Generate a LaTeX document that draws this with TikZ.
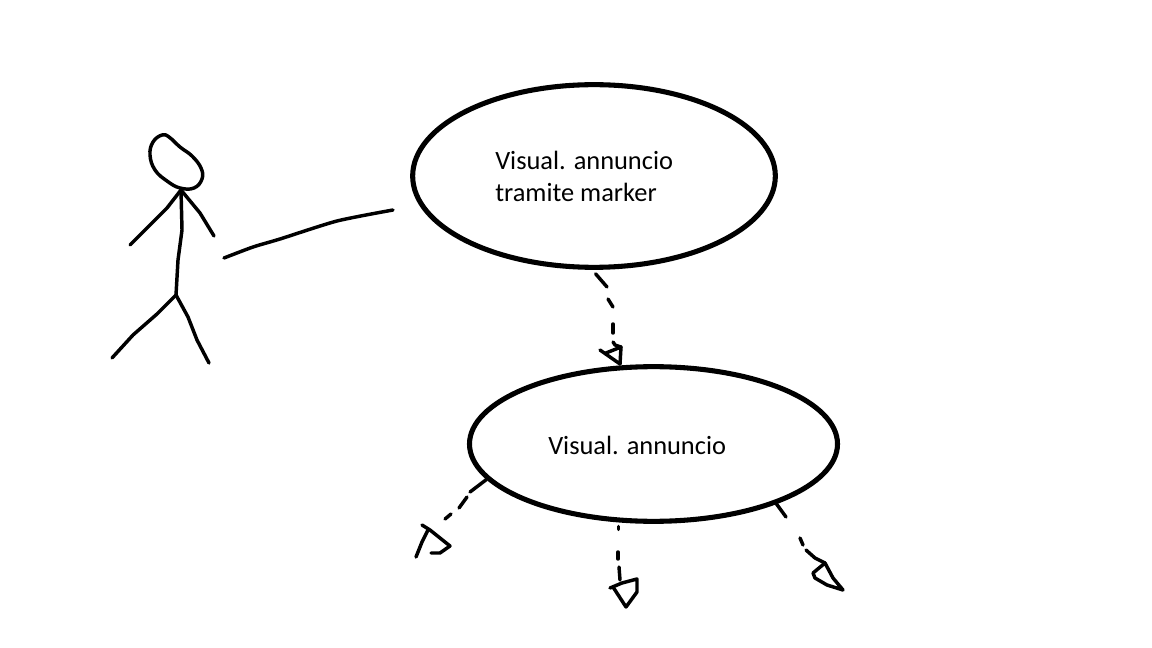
\documentclass[tikz,border=0pt]{standalone}
\usepackage{fontspec}
\setmainfont{Carlito}
\usetikzlibrary{shapes.geometric}
\tikzset{usecase/.style={ellipse, draw, line width=3.8pt, inner sep=0pt},
    adtext/.style={anchor=west, align=left, inner sep=0pt, font=\fontsize{19.8}{24}\selectfont},
    sketch/.style={line width=2.6pt, line cap=round, line join=round}}

\begin{document}
\begin{tikzpicture}[x=0.75pt, y=-0.75pt]
    \useasboundingbox (0,0) rectangle (1152,648);
    % Definition of the two use cases
    \node[usecase, minimum width=272pt, minimum height=137pt] (adMarker) at (594,176) {};
    \node[usecase, minimum width=276pt, minimum height=116pt] (adView) at (653.5,444) {};
    \node[adtext] (adMarkerText) at (495,176) {Visual. annuncio\\tramite marker};
    \node[adtext] (adViewText) at (548,445.5) {Visual. annuncio};
    %
    % Stick figure
    \coordinate (neck) at (181,190);
    \coordinate (hip) at (176,295);
    \draw[sketch] plot[smooth cycle, tension=0.7] coordinates {(162,135) (153,142) (150,155) (155,170) (167,181) (180,188) (194,188) (202,179) (201,168) (192,156) (180,147) (169,137)};
    \draw[sketch] (neck) -- (182,230) -- (178,260) -- (hip);
    \draw[sketch] (neck) -- (167,208) -- (147,228) -- (130,245);
    \draw[sketch] (neck) -- (200,213) -- (214,236);
    \draw[sketch] (hip) -- (157,314) -- (133,335) -- (112,358);
    \draw[sketch] (hip) -- (188,317) -- (197,340) -- (209,363);
    %
    % Association
    \coordinate (actorEnd) at (224,258);
    \coordinate (adEnd) at (393,210);
    \draw[sketch] plot[smooth, tension=0.4] coordinates {(actorEnd) (253,247) (280,239) (337,221) (adEnd)};
    %
    % Dashed link between the use cases
    \draw[sketch] (adMarker.-89) ++(0,4) -- (607,287);
    \draw[sketch] (608,299) -- (613,307);
    \draw[sketch] (613,324) -- (613,333);
    \draw[sketch] (613,342) -- (615,345) -- (621,347);
    \draw[sketch] (600,350) -- (620,364);
    \draw[sketch] (606,353) -- (621,347) -- (620,364);
    %
    % Dashed links below, left
    \draw[sketch] (adView.192) -- (470,492);
    \draw[sketch] (467,497) -- (459,508);
    \draw[sketch] (451,514) -- (445,519);
    \draw[sketch] (422,525) -- (430,530) -- (450,546) -- (440,553) -- (431,553);
    \draw[sketch] (428,530) -- (422,542) -- (416,557);
    %
    % middle
    \draw[sketch] (adView.-114) ++(0,4) -- ++(0,3);
    \draw[sketch] (618,552) -- (618,559);
    \draw[sketch] (619,567) -- (620,580);
    \draw[sketch] (610,588) -- (622,583) -- (637,579) -- (637,592) -- (626,607) -- (613,587);
    %
    % right
    \draw[sketch] (adView.-26) -- (786,517);
    \draw[sketch] (800,538) -- (803,545);
    \draw[sketch] (806,550) -- (815,558) -- (825,563);
    \draw[sketch] (825,563) -- (833,578) -- (843,590) -- (827,585) -- (815,578) -- (813,573) -- cycle;
\end{tikzpicture}
\end{document}
